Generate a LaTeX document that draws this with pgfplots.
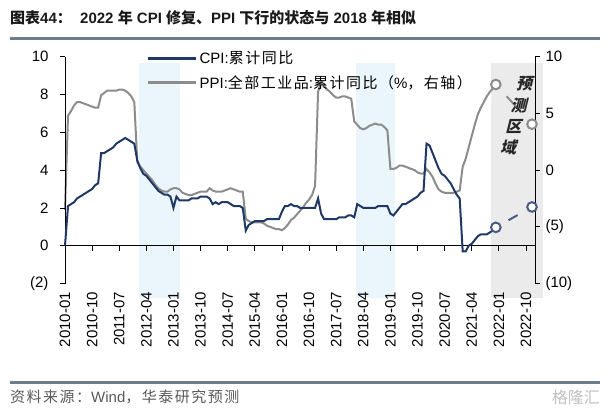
\documentclass[border=0pt]{standalone}
\usepackage{pgfplots}
\pgfplotsset{compat=1.18}
\usepackage{fontspec}
\setmainfont{Liberation Sans}
\newfontfamily\cjk{Noto Sans CJK SC}
\newfontfamily\cjkl{Noto Sans CJK SC}[LetterSpace=10]
\definecolor{cpi}{HTML}{1F3864}
\definecolor{ppi}{HTML}{8C8C8C}
\definecolor{cpif}{HTML}{4A5A86}
\definecolor{bandblue}{HTML}{EAF5FC}
\definecolor{bandgray}{HTML}{EBEBEB}
\definecolor{rulec}{HTML}{6E7D8C}
\begin{document}
\begin{tikzpicture}[x=1pt,y=1pt]
\path (0pt,0pt) rectangle (608pt,413pt);
% title
\node[anchor=west, inner sep=0pt, text=black!90] at (10pt,395pt) {\fontsize{15}{18}\selectfont\bfseries {\cjk 图表}44{\cjk ：}\ \ 2022 {\cjk 年} CPI {\cjk 修复、}PPI {\cjk 下行的状态与} 2018 {\cjk 年相似}};
\draw[rulec, line width=3pt] (10pt,374.5pt) -- (600pt,374.5pt);
% footer
\draw[rulec, line width=3pt] (10pt,30.5pt) -- (600pt,30.5pt);
\node[anchor=west, inner sep=0pt, text=black!65] at (10pt,16pt) {\fontsize{15}{18}\selectfont {\cjkl 资料来源：}Wind{\cjkl ，华泰研究预测}};
\node[anchor=east, inner sep=0pt, text=black!25] at (600pt,16pt) {\fontsize{16}{18}\selectfont\cjk 格隆汇};

% ---------- right axis: PPI ----------
\begin{axis}[
  at={(65pt,129.5pt)}, anchor=south west,
  width=470pt, height=226.8pt, scale only axis,
  xmin=0, xmax=156, ymin=-10, ymax=10,
  axis x line=none, axis y line*=right,
  ytick={-10,-5,0,5,10}, yticklabels={(10),(5),0,5,10},
  tick align=outside, major tick length=5pt,
  tick style={black, line width=0.8pt},
  axis line style={black, line width=0.8pt},
  yticklabel style={font=\fontsize{15}{18}\selectfont, xshift=2pt},
  clip=false, axis on top,
]
\fill[bandblue] (axis cs:24.5,-11.3) rectangle (axis cs:38.2,9.44);
\fill[bandblue] (axis cs:96.7,-11.3) rectangle (axis cs:109.6,9.44);
\fill[bandgray] (axis cs:141.4,-11.3) rectangle (axis cs:158.7,9.44);
\addplot[ppi, line width=2pt, no markers] coordinates {
(0,-3.5) (1,4.8) (2,5.2) (3,5.7) (4,6.0) (5,6.0) (6,5.9) (7,5.8) (8,5.7) (9,5.6) (10,5.5) (11,5.5)
(12,6.6) (13,6.8) (14,7.0) (15,7.0) (16,7.0) (17,7.0) (18,7.1) (19,7.1) (20,7.0) (21,6.8) (22,6.5) (23,6.0)
(24,0.7) (25,0.3) (26,0.0) (27,-0.3) (28,-0.6) (29,-0.9) (30,-1.3) (31,-1.6) (32,-1.8) (33,-1.9) (34,-1.9) (35,-1.7)
(36,-1.6) (37,-1.6) (38,-1.7) (39,-2.0) (40,-2.1) (41,-2.2) (42,-2.2) (43,-2.1) (44,-2.0) (45,-1.9) (46,-1.9) (47,-1.9)
(48,-1.6) (49,-1.8) (50,-1.9) (51,-1.9) (52,-1.9) (53,-1.8) (54,-1.7) (55,-1.6) (56,-1.7) (57,-1.8) (58,-1.9) (59,-1.9)
(60,-4.3) (61,-4.5) (62,-4.6) (63,-4.6) (64,-4.6) (65,-4.6) (66,-4.7) (67,-4.9) (68,-5.0) (69,-5.1) (70,-5.2) (71,-5.2)
(72,-5.3) (73,-5.1) (74,-4.8) (75,-4.4) (76,-4.2) (77,-3.9) (78,-3.6) (79,-3.3) (80,-2.9) (81,-2.6) (82,-2.2) (83,-1.4)
(84,6.9) (85,7.8) (86,7.4) (87,7.1) (88,6.9) (89,6.6) (90,6.4) (91,6.4) (92,6.5) (93,6.5) (94,6.4) (95,6.3)
(96,4.3) (97,4.0) (98,3.7) (99,3.6) (100,3.7) (101,3.9) (102,4.0) (103,4.1) (104,4.0) (105,4.0) (106,3.8) (107,3.5)
(108,0.1) (109,0.1) (110,0.2) (111,0.4) (112,0.4) (113,0.3) (114,0.2) (115,0.1) (116,0.0) (117,-0.2) (118,-0.3) (119,-0.3)
(120,0.1) (121,-0.2) (122,-0.6) (123,-1.2) (124,-1.7) (125,-1.9) (126,-2.0) (127,-2.0) (128,-2.0) (129,-2.0) (130,-1.9) (131,-1.8)
(132,0.3) (133,1.0) (134,2.0) (135,3.0) (136,4.0) (137,4.9) (138,5.5) (139,6.0) (140,6.5) (141,6.9) (142,7.2) (143,7.55)
};
\addplot[ppi, line width=2pt, dash pattern=on 0pt off 16pt on 22pt off 40pt,
  mark=*, mark size=4.8pt, mark options={solid, fill=white, draw=ppi, line width=2pt}]
  coordinates {(143,7.55) (155,4.05)};
\end{axis}

% ---------- left axis: CPI ----------
\begin{axis}[
  at={(65pt,129.5pt)}, anchor=south west,
  width=470pt, height=226.8pt, scale only axis,
  xmin=0, xmax=156, ymin=-2, ymax=10,
  axis y line*=left, axis x line*=bottom,
  x axis line style={draw=none},
  xtick={0,9,...,153},
  xticklabels={2010-01,2010-10,2011-07,2012-04,2013-01,2013-10,2014-07,2015-04,2016-01,2016-10,2017-07,2018-04,2019-01,2019-10,2020-07,2021-04,2022-01,2022-10},
  xtick style={draw=none},
  xticklabel style={rotate=90, anchor=east, font=\fontsize{15}{18}\selectfont},
  ytick={-2,0,2,4,6,8,10}, yticklabels={(2),0,2,4,6,8,10},
  tick align=outside, major tick length=5pt,
  tick style={black, line width=0.8pt},
  axis line style={black, line width=0.8pt},
  yticklabel style={font=\fontsize{15}{18}\selectfont, xshift=-8pt},
  clip=false,
  legend style={at={(axis cs:27.2,10.4)}, anchor=north west, draw=none, fill=none,
    font=\fontsize{15}{18}\selectfont, row sep=6pt, inner sep=0pt},
  legend cell align=left,
  legend image code/.code={\draw[#1, line width=2.5pt] (0pt,0pt) -- (48pt,0pt);},
]
\draw[black, line width=0.8pt] (axis cs:0,0) -- (axis cs:156,0);
\pgfplotsinvokeforeach{9,18,...,153}{\draw[black, line width=0.8pt] (axis cs:#1,0) -- ++(0pt,-5pt);}
\addplot[cpi, line width=2pt, no markers] coordinates {
(0,0) (1,2.1) (2,2.2) (3,2.3) (4,2.5) (5,2.6) (6,2.7) (7,2.8) (8,2.9) (9,3.0) (10,3.2) (11,3.3)
(12,4.9) (13,4.9) (14,5.0) (15,5.1) (16,5.2) (17,5.4) (18,5.5) (19,5.6) (20,5.7) (21,5.6) (22,5.5) (23,5.4)
(24,4.5) (25,4.1) (26,3.8) (27,3.7) (28,3.5) (29,3.3) (30,3.1) (31,2.9) (32,2.8) (33,2.7) (34,2.7) (35,2.6)
(36,2.0) (37,2.6) (38,2.4) (39,2.4) (40,2.4) (41,2.4) (42,2.5) (43,2.5) (44,2.5) (45,2.6) (46,2.6) (47,2.6)
(48,2.5) (49,2.2) (50,2.3) (51,2.2) (52,2.3) (53,2.3) (54,2.3) (55,2.2) (56,2.1) (57,2.1) (58,2.1) (59,2.0)
(60,0.8) (61,1.1) (62,1.2) (63,1.3) (64,1.3) (65,1.3) (66,1.3) (67,1.4) (68,1.4) (69,1.4) (70,1.4) (71,1.4)
(72,1.8) (73,2.1) (74,2.1) (75,2.2) (76,2.1) (77,2.1) (78,2.0) (79,2.0) (80,2.0) (81,2.0) (82,2.0) (83,2.0)
(84,2.5) (85,1.7) (86,1.4) (87,1.4) (88,1.4) (89,1.4) (90,1.4) (91,1.5) (92,1.5) (93,1.5) (94,1.6) (95,1.6)
(96,1.5) (97,2.2) (98,2.1) (99,2.0) (100,2.0) (101,2.0) (102,2.0) (103,2.0) (104,2.1) (105,2.1) (106,2.1) (107,2.1)
(108,1.7) (109,1.6) (110,1.8) (111,2.0) (112,2.2) (113,2.2) (114,2.3) (115,2.4) (116,2.5) (117,2.6) (118,2.8) (119,2.9)
(120,5.4) (121,5.3) (122,4.9) (123,4.5) (124,4.1) (125,3.8) (126,3.7) (127,3.5) (128,3.3) (129,3.0) (130,2.7) (131,2.5)
(132,-0.3) (133,-0.3) (134,0.0) (135,0.1) (136,0.3) (137,0.5) (138,0.6) (139,0.6) (140,0.6) (141,0.7) (142,0.8) (143,0.97)
};
\addlegendentry{CPI:{\cjkl 累计同比}}
\addplot[cpif, line width=2pt, dash pattern=on 0pt off 14.5pt on 10.5pt off 40pt,
  mark=*, mark size=4.8pt, mark options={solid, fill=white, draw=cpif, line width=2pt}, forget plot]
  coordinates {(143,0.97) (155,2.05)};
\addlegendimage{ppi, line width=2pt}
\addlegendentry{PPI:{\cjkl 全部工业品}:{\cjkl 累计同比（}\%{\cjkl ，右轴）}}
\node[font=\fontsize{16}{21.3}\selectfont\bfseries\cjk, align=center, xslant=0.25, inner sep=0pt, text=black!85]
  at (axis cs:150.2,6.86) {预\\测\\区\\域};
\end{axis}
\end{tikzpicture}
\end{document}
